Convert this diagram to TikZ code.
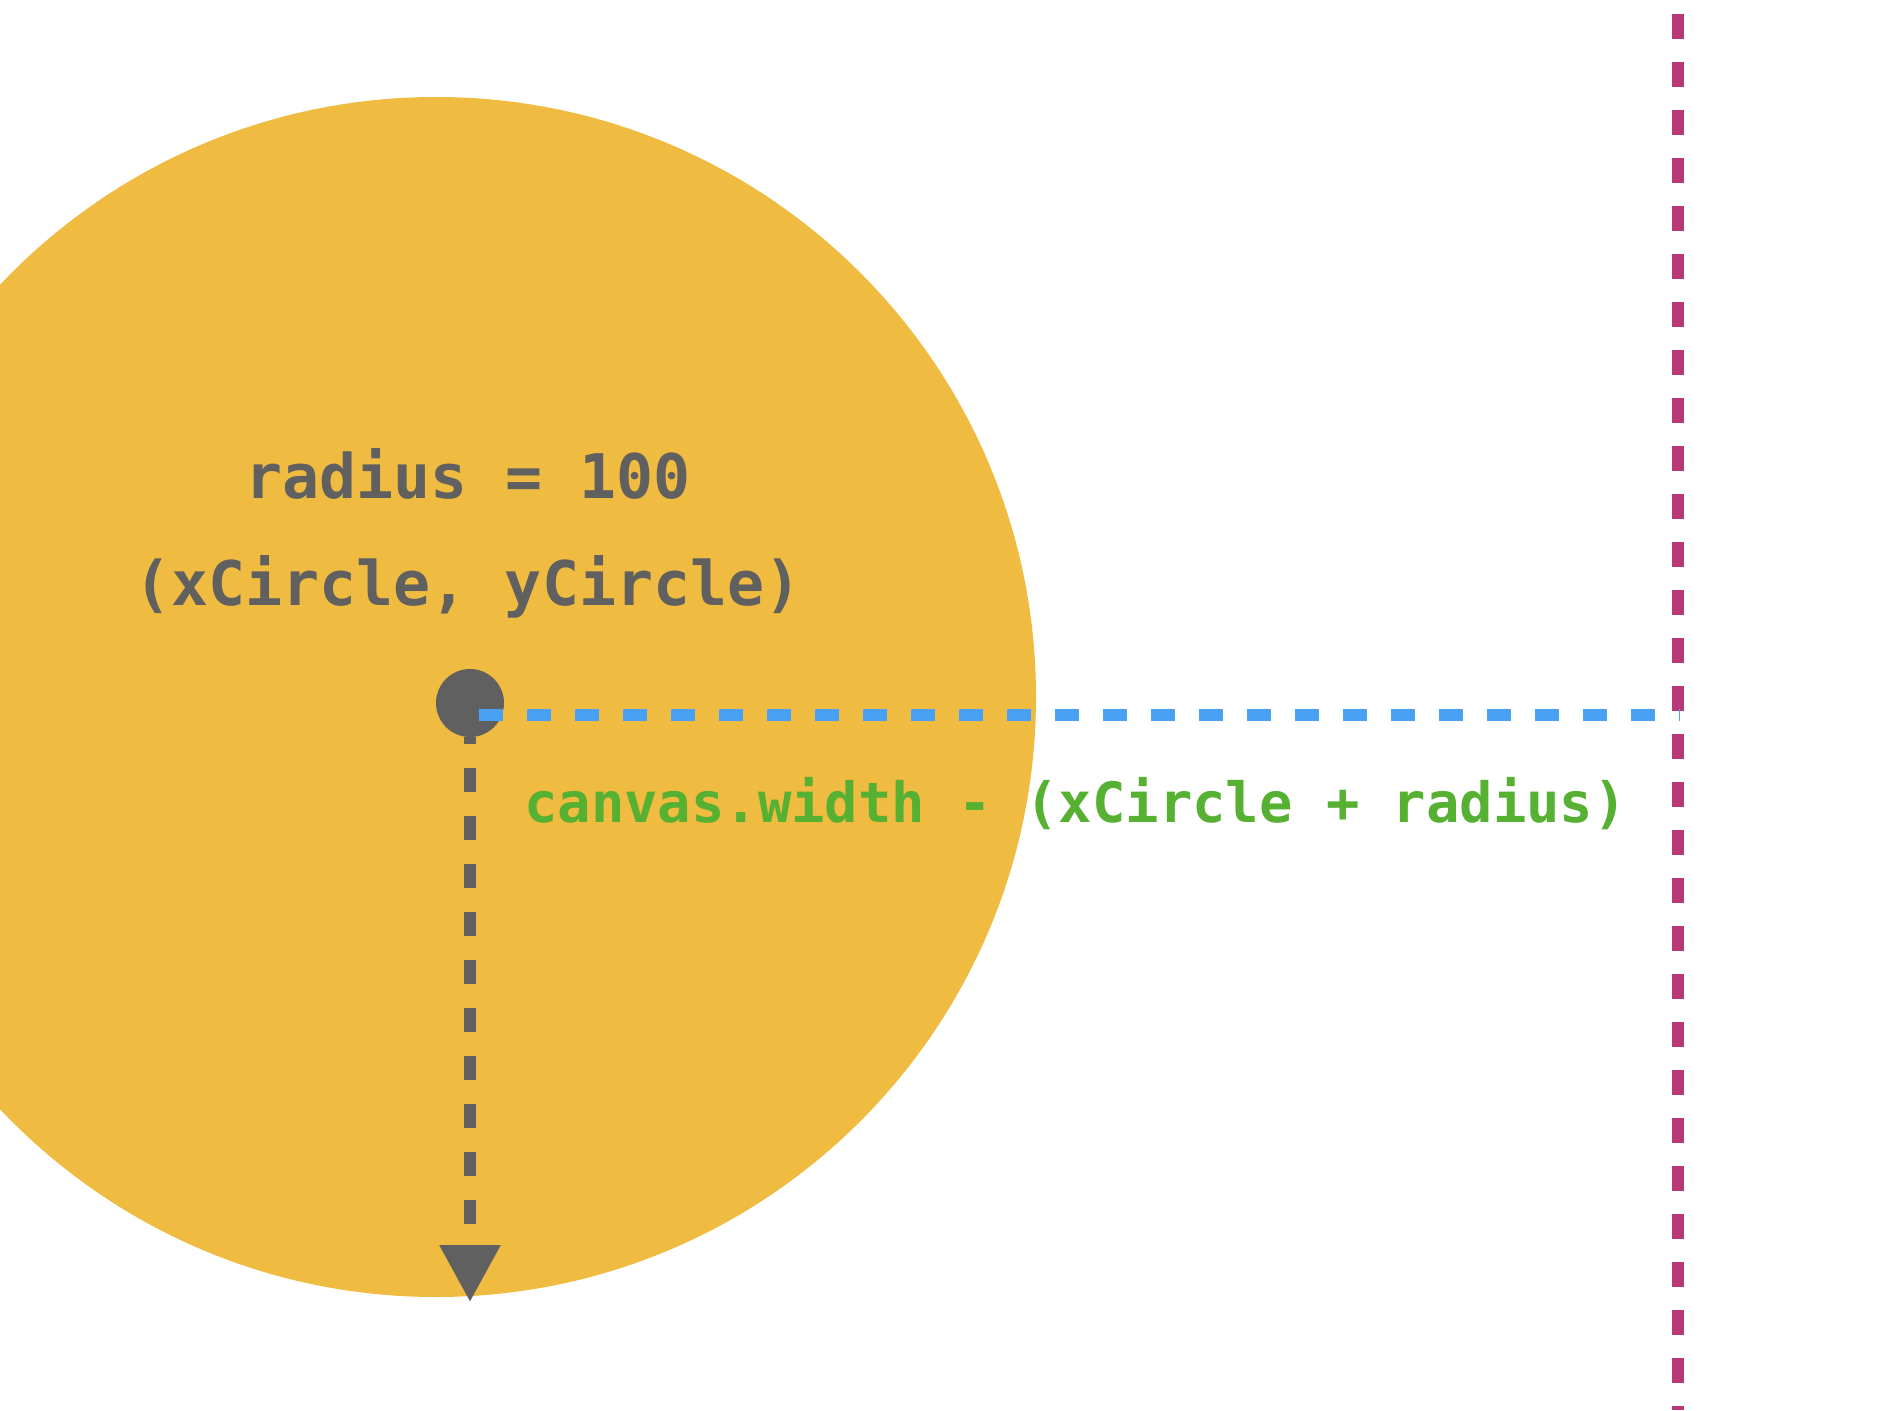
\documentclass[tikz,border=0pt]{standalone}
\usepackage{fontspec}
\newfontfamily\codefont{DejaVu Sans Mono}
\usetikzlibrary{arrows.meta}
\definecolor{sunyellow}{RGB}{239,187,64}
\definecolor{inkgray}{RGB}{96,96,96}
\definecolor{lineblue}{RGB}{74,160,245}
\definecolor{codegreen}{RGB}{86,176,50}
\definecolor{edgepink}{RGB}{185,57,120}
\tikzset{
  graytext/.style={text=inkgray, inner sep=0pt, anchor=base, font=\codefont\bfseries\fontsize{61.5}{70}\selectfont},
  greentext/.style={text=codegreen, inner sep=0pt, anchor=base west, font=\codefont\bfseries\fontsize{55.5}{64}\selectfont},
  centerdot/.style={circle, fill=inkgray, minimum size=68pt, inner sep=0pt},
  graydash/.style={draw=inkgray, line width=12pt, dash pattern=on 24pt off 24pt, dash phase=17pt,
    -{Triangle[width=58pt,length=57pt]}},
  bluedash/.style={draw=lineblue, line width=12pt, dash pattern=on 24pt off 24pt},
  pinkdash/.style={draw=edgepink, line width=12pt, dash pattern=on 25pt off 23pt}
}
\begin{document}
\begin{tikzpicture}[x=1pt,y=-1pt]
\useasboundingbox (0,0) rectangle (1902,1410);
\fill[white] (0,0) rectangle (1902,1410);
\begin{scope}
\clip (0,0) rectangle (1902,1410);
\fill[sunyellow] (436,697) circle [radius=600pt];
\end{scope}
% pink vertical edge
\coordinate (ptop) at (1678,14);
\coordinate (pbot) at (1678,1410);
\draw[pinkdash] (ptop) -- (pbot);
% texts
\node[graytext] (rad) at (468,498) {radius = 100};
\node[graytext] (cen) at (468,605) {(xCircle, yCircle)};
\node[greentext] (formula) at (524,822) {canvas.width - (xCircle + radius)};
% centre dot and connectors
\node[centerdot] (dot) at (470,703) {};
\coordinate (arrowend) at (470,1302);
\draw[graydash] (dot.south) -- (arrowend);
\coordinate (bstart) at (478.5,715);
\coordinate (bend) at (1680,715);
\draw[bluedash] (bstart) -- (bend);
\end{tikzpicture}
\end{document}
